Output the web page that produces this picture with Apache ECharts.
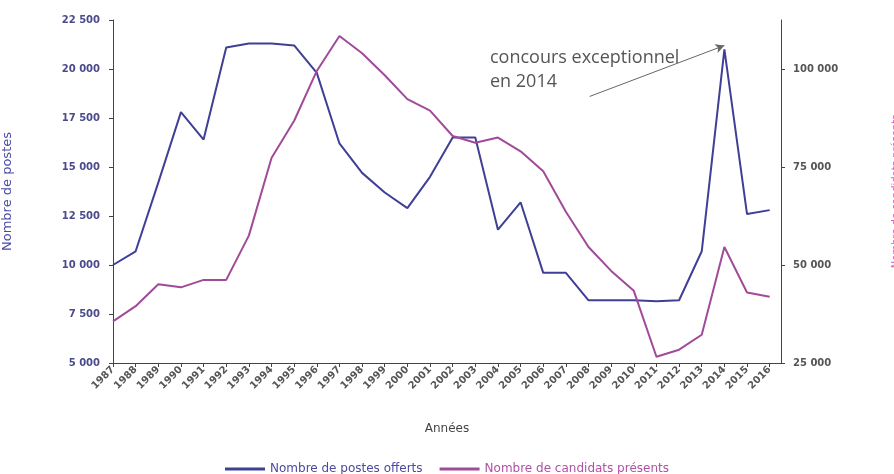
<!DOCTYPE html>
<html>
<head>
<meta charset="utf-8">
<script src="https://cdn.jsdelivr.net/npm/echarts@6/dist/echarts.min.js"></script>
<style>html,body{margin:0;padding:0;background:#fff;}#c{width:894px;height:474px;}</style>
</head>
<body>
<div id="c"></div>
<script>
const years = [1987,1988,1989,1990,1991,1992,1993,1994,1995,1996,1997,1998,1999,2000,2001,2002,2003,2004,2005,2006,2007,2008,2009,2010,2011,2012,2013,2014,2015,2016];
const postesOfferts = [10000,10700,14200,17800,16400,21100,21300,21300,21200,19800,16200,14700,13700,12900,14500,16500,16500,11800,13200,9600,9600,8200,8200,8200,8150,8200,10700,21000,12600,12800];
const candidatsPresents = [35600,39500,45100,44300,46200,46200,57500,77300,86800,99500,108400,104000,98400,92300,89400,82900,81200,82500,79000,73900,63600,54600,48500,43400,26600,28400,32200,54600,43000,41900];
const leftTicks = [5000, 22500, 2500];
const rightTicks = [25000, 112500, 25000];
const seriesNames = ['Nombre de postes offerts', 'Nombre de candidats présents'];
const annotationText = 'concours exceptionnel\nen 2014';
const annotationYear = 2014;

const fmtSpace = v => String(v).replace(/\B(?=(\d{3})+(?!\d))/g, ' ');
const blue = '#3f3f96';
const magenta = '#a04a98';
const FONT = '"DejaVu Sans", sans-serif';

const chart = echarts.init(document.getElementById('c'));
chart.setOption({
  animation: false,
  backgroundColor: '#fff',
  textStyle: { fontFamily: FONT },
  grid: { left: 113, right: 113, top: 20, bottom: 111, outerBoundsMode: 'none', containLabel: false },
  xAxis: {
    type: 'value', min: years[0], max: years[years.length - 1] + 0.5, interval: 1,
    name: 'Années', nameLocation: 'middle', nameGap: 60,
    nameTextStyle: { color: '#444', fontSize: 12, fontFamily: FONT },
    axisLine: { lineStyle: { color: '#444', width: 1 } },
    axisTick: { length: 4, lineStyle: { color: '#444' } },
    axisLabel: { rotate: 45, fontSize: 10, color: '#555', fontWeight: 'bold', margin: 5, showMaxLabel: false, fontFamily: FONT, formatter: v => String(v) },
    splitLine: { show: false }
  },
  yAxis: [
    {
      type: 'value', min: leftTicks[0], max: leftTicks[1], interval: leftTicks[2],
      name: 'Nombre de postes', nameLocation: 'middle', nameGap: 99,
      nameTextStyle: { color: '#4a4aa8', fontSize: 13, fontFamily: FONT },
      axisLine: { show: true, lineStyle: { color: '#444' } },
      axisTick: { show: true, length: 4, lineStyle: { color: '#444' } },
      axisLabel: { fontSize: 10, color: '#4a4a8c', fontWeight: 'bold', margin: 13, fontFamily: FONT, formatter: fmtSpace },
      splitLine: { show: false }
    },
    {
      type: 'value', min: rightTicks[0], max: rightTicks[1], interval: rightTicks[2],
      position: 'right',
      name: 'Nombre de candidats présents', nameLocation: 'middle', nameGap: 110,
      nameTextStyle: { color: '#d060c0', fontSize: 10, fontFamily: FONT },
      axisLine: { show: true, lineStyle: { color: '#444' } },
      axisTick: { show: true, length: 4, lineStyle: { color: '#444' } },
      axisLabel: { fontSize: 10, color: '#555', fontWeight: 'bold', margin: 12, showMaxLabel: false, fontFamily: FONT, formatter: fmtSpace },
      splitLine: { show: false }
    }
  ],
  legend: {
    left: 'center', top: 458, itemWidth: 40, itemHeight: 3, itemGap: 17, icon: 'rect',
    textStyle: { fontSize: 12, fontFamily: FONT },
    data: [
      { name: seriesNames[0], textStyle: { color: '#4a4aa0' } },
      { name: seriesNames[1], textStyle: { color: '#b050a8' } }
    ]
  },
  series: [
    {
      name: seriesNames[0], type: 'line', yAxisIndex: 0,
      data: years.map((y, i) => [y, postesOfferts[i]]),
      showSymbol: false, symbol: 'none',
      lineStyle: { color: blue, width: 2 }, itemStyle: { color: blue },
      markLine: {
        silent: true, symbol: ['none', 'arrow'], symbolSize: [7, 9],
        label: { show: false },
        lineStyle: { color: '#666', width: 1, type: 'solid' },
        data: [[
          { coord: [2008.05, 18600] },
          { coord: [annotationYear, postesOfferts[years.indexOf(annotationYear)] + 200] }
        ]]
      }
    },
    {
      name: seriesNames[1], type: 'line', yAxisIndex: 1,
      data: years.map((y, i) => [y, candidatsPresents[i]]),
      showSymbol: false, symbol: 'none',
      lineStyle: { color: magenta, width: 2 }, itemStyle: { color: magenta }
    }
  ],
  graphic: [
    {
      type: 'text', left: 490, top: 46,
      style: { text: annotationText, fill: '#555', font: '18px "Open Sans", sans-serif', lineHeight: 24 }
    }
  ]
});
</script>
</body>
</html>
